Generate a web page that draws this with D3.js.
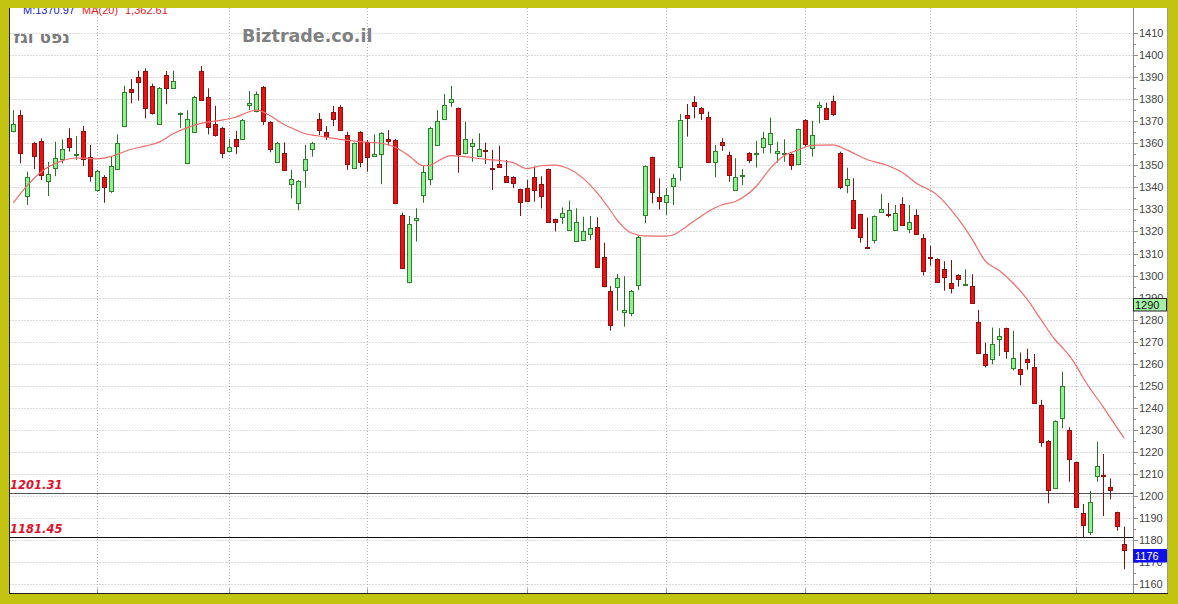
<!DOCTYPE html>
<html><head><meta charset="utf-8">
<script src="https://cdn.jsdelivr.net/npm/d3@7"></script>
<style>html,body{margin:0;padding:0;background:#c3c312;}svg{display:block;}</style>
</head><body>
<svg id="chart" width="1178" height="604"></svg>
<script>
// ---- data ----
const open  = [1365.7,1372.8,1335.8,1360,1360.8,1342.6,1348.9,1352.7,1362.2,1354.5,1365.7,1353.9,1338.8,1344.6,1338,1348.2,1367.8,1384.6,1390,1392.9,1386,1368.7,1391,1385.4,1373.2,1350.9,1365.2,1392.8,1381.1,1368.6,1367.1,1356.6,1361.8,1361.8,1377.3,1374.5,1385.7,1369.8,1351.5,1355.7,1341.5,1332.8,1347.6,1357.7,1370.9,1365,1374.3,1376.3,1363.7,1348.7,1365.2,1360.7,1354.2,1355.1,1362,1361.5,1327.5,1296.8,1325,1336.5,1344.1,1359.2,1370.9,1378.6,1375.9,1355.3,1358.8,1354.2,1356.8,1349,1350.6,1345.1,1344.6,1339.1,1339.6,1344.8,1341.4,1348.2,1325.5,1326.3,1320.7,1315.4,1316.1,1318.8,1322.2,1308.3,1293.2,1294.7,1283.5,1282.9,1295.7,1327.5,1353.6,1335.5,1333.5,1340.6,1349.1,1372.8,1378.6,1376.1,1371.9,1351.4,1360.7,1354.5,1339.1,1345.1,1355.7,1355,1358.4,1359.7,1355.4,1355.3,1355.1,1350.4,1370.5,1357.7,1376.3,1375.9,1379.2,1355.4,1341,1334.3,1327.8,1313,1316.1,1328.7,1328,1320.7,1332.3,1321.4,1327.5,1316.9,1308.4,1307.5,1302.8,1296.8,1300.3,1296,1295.3,1279.1,1264.4,1262.2,1271.5,1276.1,1257.9,1257.5,1262.3,1258.5,1241.3,1225.1,1203.5,1235.3,1230,1215.3,1192.2,1183.8,1209.1,1209.4,1204.2,1192.6,1178.3];
const high  = [1375,1375,1347.1,1360.5,1362.2,1351.6,1360.7,1361.8,1366.8,1363.3,1367.8,1359.2,1348,1345.5,1353.9,1364,1386.1,1389.1,1392.9,1394,1387,1385.5,1392.8,1392.9,1374,1375,1381.5,1395,1384.9,1377,1367.5,1362,1365.6,1371,1383.7,1383.5,1386,1370,1360.5,1360.4,1347.9,1343.3,1359.3,1360.6,1373.7,1367.8,1376.9,1377.3,1365.2,1360.3,1365.5,1361.5,1364,1365,1366,1362,1328.5,1327,1330.5,1349.7,1367.5,1375,1382.3,1386,1376.2,1369.8,1362,1364.5,1360.3,1357,1358.9,1352.4,1345,1339.4,1343.3,1349.4,1345.1,1348.5,1325.8,1330.9,1334,1330.5,1326.7,1327,1326.4,1314.9,1295.3,1300.7,1299.7,1293.5,1318,1350,1353.9,1344.1,1339.6,1346,1373.3,1377.8,1381.4,1376.4,1374.3,1359.2,1362.2,1356.2,1353.2,1348.2,1356,1361,1365.2,1371.6,1360.7,1361.8,1355.4,1366.6,1370.8,1370.2,1378.8,1378.4,1381.6,1356.2,1348.9,1344.1,1328,1326.3,1327.3,1336.9,1333,1332,1335.5,1332,1330,1318.8,1313.5,1307.8,1306.5,1307.1,1300.6,1302.8,1300.6,1284.4,1269.5,1276.4,1276.1,1276.4,1274.9,1265.1,1266.8,1264.4,1243.6,1225.4,1234.3,1256.4,1231.2,1215.6,1196.4,1202.4,1224.6,1219.1,1208,1192.9,1186.1];
const low   = [1365,1350.9,1332,1348.3,1343.3,1336.1,1345.1,1350.9,1356.2,1352.4,1349.7,1342.6,1338,1333,1337.5,1348,1367.5,1378.1,1379.3,1371.3,1373,1368.3,1377.7,1385,1367,1350.5,1364.8,1379.3,1364,1363,1353.2,1356.2,1355.1,1361.5,1375,1374,1368.3,1355.9,1351.2,1347.5,1335,1329.6,1339.8,1353.9,1363.7,1361.5,1367.8,1365.5,1347.9,1348.4,1349.1,1347.1,1354,1341.4,1359,1332.5,1303,1296.5,1315.4,1333,1341,1359,1370.5,1376.5,1346.6,1355,1351.6,1354,1350.6,1338.8,1349,1342.3,1339.6,1327,1333.5,1333.5,1330.5,1323.8,1320,1323.4,1320.4,1315.1,1315.8,1316.1,1303.8,1294.7,1275,1284.1,1276.8,1281.5,1293.4,1323.7,1332.8,1330,1327.5,1332,1343,1363,1371.3,1370.5,1351.3,1344.6,1356.6,1342.6,1338.8,1341,1351,1349,1355.4,1355.4,1351.2,1351.6,1347.9,1350.1,1358.4,1353.9,1369,1370.7,1372.4,1339.1,1337.3,1321.1,1314.9,1312.5,1314.6,1328.5,1326.4,1320.5,1322.8,1319.2,1318.5,1300,1304.5,1296.6,1293.1,1291.9,1295,1295.4,1287.1,1264.9,1258.3,1259.7,1263.5,1262.3,1257,1250.2,1257.3,1242,1222.4,1196.7,1203.2,1230.7,1206.5,1194.6,1181.3,1182.3,1206.5,1190.9,1198.5,1184.3,1166.8];
const close = [1368.7,1355.4,1344.6,1353.9,1345.3,1345.9,1353.3,1357.2,1358.2,1354.9,1353.2,1345.1,1347.6,1339.9,1349.5,1360,1383.1,1383.1,1387.9,1376.3,1373.6,1384.9,1384.9,1388.4,1373.5,1371,1381.1,1379.6,1367.5,1363.4,1355.9,1358.2,1358.4,1370.5,1378.4,1382.3,1370.5,1357.7,1360.2,1347.9,1343.6,1343,1352.7,1360.3,1366.1,1363.4,1370.9,1365.7,1350.6,1360,1351.4,1353.9,1355.3,1364.5,1361,1332.8,1303.3,1323.2,1326,1347.1,1367.1,1370.2,1377.3,1379.9,1355.1,1361.8,1360.3,1357.5,1356.5,1348.6,1349.1,1342.6,1341.8,1333,1333.8,1339.1,1335.8,1324.1,1324.1,1328.2,1329.7,1324.1,1320,1321.7,1304.1,1295,1277.6,1298.9,1284.6,1293,1317.6,1349.7,1337.7,1333.5,1336.5,1344.1,1370.5,1371.6,1376.9,1374,1351.6,1356.5,1359.5,1345.6,1344.8,1345.4,1352.7,1355.5,1362.6,1364.8,1356.5,1355.5,1350.1,1366.3,1359.7,1363.7,1377.3,1371,1373.1,1340,1343.8,1321.4,1317.3,1312.7,1327,1330.2,1327.8,1328.2,1323,1324.5,1318.8,1302,1308.2,1296.9,1299,1294.5,1298.4,1296.3,1287.4,1265.2,1259.4,1268.8,1272.7,1265.5,1262.6,1255.2,1260.9,1242.3,1224.4,1202.7,1234,1250,1216.8,1194.9,1186.9,1197.4,1213.6,1209.1,1202.7,1186.4,1175.5];
// MA(20) line: [candle index, value]
const maIndex = [0,2,4,7,9,12,14,17,19,21,23,25,27,29,32,34,35,37,39,40,42,44,47,50,53,55,57,59,60,61,63,65,68,70,72,74,76,78,80,82,84,86,87,89,91,94,95,97,99,101,102,104,107,109,111,113,115,118,120,123,126,128,130,133,136,138,140,142,144,146,148,150,151,152,153,154,157,159,160];
const maValue = [1333,1340.8,1347,1352,1353.3,1352.9,1353.9,1357.3,1358.7,1360.5,1364.3,1367,1369,1370,1371.8,1374.3,1375,1372.5,1368.5,1367,1364.3,1363.3,1361.8,1360.7,1360,1358.2,1354.3,1349.8,1349.9,1351.6,1354.4,1353.9,1352.7,1352.2,1351.2,1348.5,1349.8,1350.1,1348.4,1344.3,1337.8,1329.5,1325,1319.3,1318,1317.9,1318.4,1322.4,1326.8,1330.6,1332,1333.6,1340.5,1348.5,1354.3,1356.9,1359,1359.3,1357,1352.5,1349.8,1346.8,1342,1336.7,1326,1317,1306.5,1302.3,1296.5,1289.3,1280,1271,1267.6,1264,1259.5,1254,1240.2,1230.8,1226.2];
const monthStarts = [12,31,51,74,94,114,132,153];
const yTicks = d3.range(1160, 1411, 10);
const levels = [1201.31, 1181.45];
const levelLabels = ["1201.31", "1181.45"];
const tagValues = [1290, 1176];
const tagLabels = ["1290", "1176"];
const headerTexts = ["M:1370.97", "MA(20)", "1,362.61"];

// ---- drawing ----
const W = 1178, H = 604;
const svg = d3.select("#chart");
const plot = {left: 9.5, right: 1133.5, top: 8, bottom: 593.5};
const n = close.length;
const x = d3.scaleLinear().domain([0, n - 1]).range([13.3, 1124.3]);
const y = d3.scaleLinear().domain([1160, 1410]).range([584.25, 33]);
const px = i => Math.round(x(i)) + 0.5;

svg.append("rect").attr("width", W).attr("height", H).attr("fill", "#c3c312");
svg.append("rect").attr("x", 9).attr("y", 8).attr("width", 1159).attr("height", 586).attr("fill", "#fff");

// grid
svg.append("g").selectAll("line").data(yTicks).join("line")
  .attr("x1", plot.left).attr("x2", plot.right)
  .attr("y1", d => Math.round(y(d)) + 0.5).attr("y2", d => Math.round(y(d)) + 0.5)
  .attr("stroke", "#b4b4b4").attr("stroke-dasharray", "1,2");
svg.append("g").selectAll("line").data(monthStarts).join("line")
  .attr("x1", d => px(d)).attr("x2", d => px(d))
  .attr("y1", plot.top).attr("y2", plot.bottom)
  .attr("stroke", "#b4b4b4").attr("stroke-dasharray", "1,2");
svg.append("g").selectAll("line").data(monthStarts).join("line")
  .attr("x1", d => px(d)).attr("x2", d => px(d))
  .attr("y1", plot.bottom - 5).attr("y2", plot.bottom)
  .attr("stroke", "#999");

// level lines
svg.append("g").selectAll("line").data(levels).join("line")
  .attr("x1", plot.left).attr("x2", plot.right)
  .attr("y1", d => Math.round(y(d)) + 0.5).attr("y2", d => Math.round(y(d)) + 0.5)
  .attr("stroke", (d, i) => i === 0 ? "#555" : "#111").attr("stroke-width", 1);
svg.append("g").selectAll("text").data(levels).join("text")
  .attr("x", 10).attr("y", d => y(d) - 4)
  .attr("font-family", "DejaVu Sans").attr("font-size", 11.5).attr("font-weight", "bold")
  .attr("font-style", "italic").attr("fill", "#e0102a")
  .text((d, i) => levelLabels[i]);

// candles
const idx = d3.range(n);
const up = i => close[i] >= open[i];
const cg = svg.append("g");
cg.selectAll("line").data(idx).join("line")
  .attr("x1", i => px(i)).attr("x2", i => px(i))
  .attr("y1", i => y(high[i])).attr("y2", i => y(low[i]))
  .attr("stroke", i => up(i) ? "#2a6f2a" : "#7a1515").attr("stroke-width", 1);
cg.selectAll("rect").data(idx).join("rect")
  .attr("x", i => px(i) - 2)
  .attr("width", 4)
  .attr("y", i => Math.round(y(Math.max(open[i], close[i]))) + 0.5)
  .attr("height", i => Math.max(1, Math.round(Math.abs(y(open[i]) - y(close[i])))))
  .attr("fill", i => up(i) ? "#8ef08e" : "#ee1111")
  .attr("stroke", i => up(i) ? "#2f7f2f" : "#8b1010").attr("stroke-width", 1);

// MA line
const maLine = d3.line().x(d => x(d[0])).y(d => y(d[1])).curve(d3.curveMonotoneX);
svg.append("path").datum(maIndex.map((k, i) => [k, maValue[i]]))
  .attr("d", maLine).attr("fill", "none").attr("stroke", "#f06a6a").attr("stroke-width", 1.2);

// titles
svg.append("text").attr("x", 70).attr("y", 43).attr("text-anchor", "end")
  .attr("font-family", "DejaVu Sans").attr("font-weight", "bold").attr("font-size", 17)
  .attr("fill", "#7a7a7a").text("נפט וגז");
svg.append("text").attr("x", 242).attr("y", 42)
  .attr("font-family", "DejaVu Sans").attr("font-weight", "bold").attr("font-size", 17.5)
  .attr("fill", "#808080").text("Biztrade.co.il");

// right axis
const ax = svg.append("g");
ax.append("line").attr("x1", 1133.5).attr("x2", 1133.5).attr("y1", plot.top).attr("y2", plot.bottom)
  .attr("stroke", "#8a8a8a");
ax.selectAll("line.minor").data(d3.range(1160, 1415, 5)).join("line").attr("class", "minor")
  .attr("x1", 1133.5).attr("x2", d => d % 10 === 0 ? 1138 : 1136)
  .attr("y1", d => Math.round(y(d)) + 0.5).attr("y2", d => Math.round(y(d)) + 0.5)
  .attr("stroke", "#8a8a8a");
ax.selectAll("text").data(yTicks).join("text")
  .attr("x", 1139).attr("y", d => y(d) + 4)
  .attr("font-family", "Liberation Sans").attr("font-size", 11).attr("fill", "#444")
  .text(d => d);
svg.append("line").attr("x1", 1167.5).attr("x2", 1167.5).attr("y1", plot.top).attr("y2", plot.bottom)
  .attr("stroke", "#9a9a9a");

// value tags (they cover part of the axis labels behind them, as in the reference)
const tagFill = ["#a6f0a6", "#1010e8"], tagText = ["#111", "#fff"];
tagValues.forEach((v, i) => {
  const ty = Math.round(y(v)) + 0.5;
  svg.append("rect").attr("x", 1133.5).attr("y", ty).attr("width", 33).attr("height", 12.5)
    .attr("fill", tagFill[i]).attr("stroke", i === 0 ? "#222" : "#1010e8");
  svg.append("text").attr("x", 1135).attr("y", ty + 10.5)
    .attr("font-family", "Liberation Sans").attr("font-size", 11).attr("fill", tagText[i])
    .text(tagLabels[i]);
});

// header (partly hidden by frame)
const hdr = svg.append("g").attr("font-family", "Liberation Sans").attr("font-size", 11);
hdr.append("text").attr("x", 23).attr("y", 14).attr("fill", "#2020c8").text(headerTexts[0]);
hdr.append("text").attr("x", 82).attr("y", 14).attr("fill", "#e02020").text(headerTexts[1]);
hdr.append("text").attr("x", 125).attr("y", 14).attr("fill", "#e02020").text(headerTexts[2]);

// frame
const fr = svg.append("g").attr("fill", "#c3c312");
fr.append("rect").attr("x", 0).attr("y", 0).attr("width", W).attr("height", 8);
fr.append("rect").attr("x", 0).attr("y", 0).attr("width", 9).attr("height", H);
fr.append("rect").attr("x", 1168).attr("y", 0).attr("width", 10).attr("height", H);
fr.append("rect").attr("x", 0).attr("y", 594).attr("width", W).attr("height", 10);
svg.append("line").attr("x1", 9.5).attr("x2", 9.5).attr("y1", 8).attr("y2", 594).attr("stroke", "#222");
svg.append("line").attr("x1", 9).attr("x2", 1168).attr("y1", 593.5).attr("y2", 593.5).attr("stroke", "#222");
</script>
</body></html>
